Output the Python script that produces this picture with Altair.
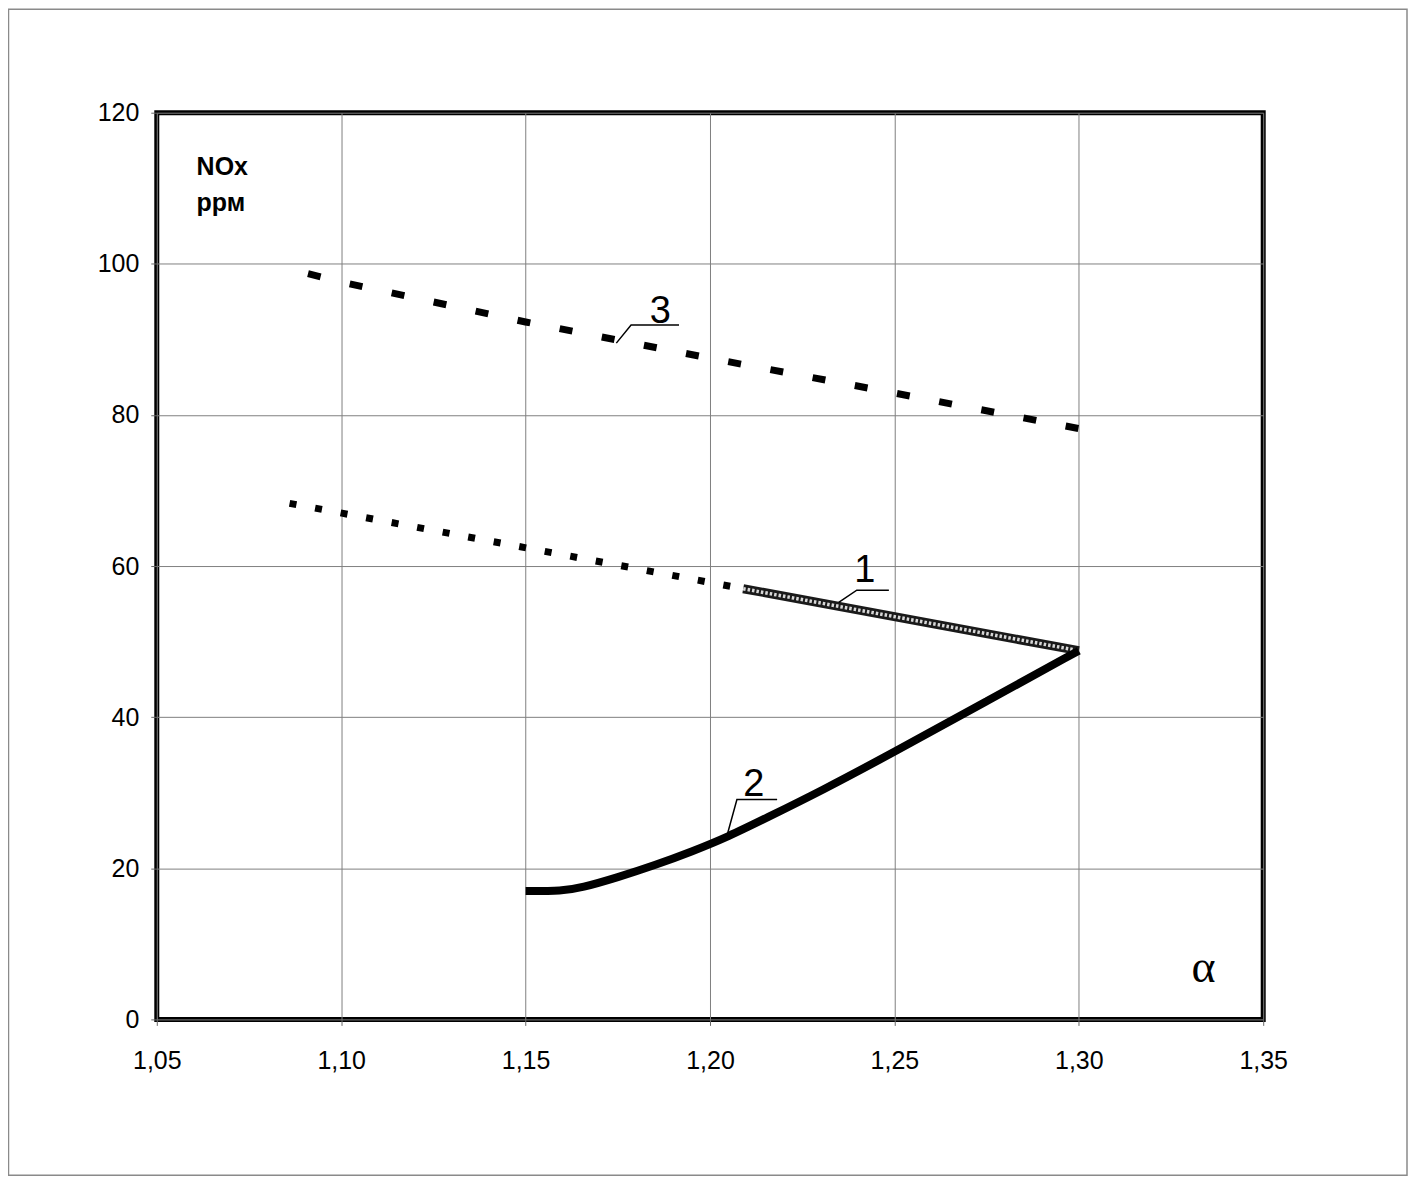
import pandas as pd
import altair as alt

# curve 1: dotted part then hatched solid part
alpha_1 = [1.086, 1.209, 1.300]
nox_1 = [68.3, 57.0, 48.8]

# curve 2: solid thick line
alpha_2 = [1.150, 1.160, 1.165, 1.175, 1.185, 1.195, 1.205, 1.215, 1.230, 1.250, 1.275, 1.300]
nox_2 = [17.0, 17.0, 17.4, 18.8, 20.4, 22.2, 24.2, 26.6, 30.2, 35.4, 42.1, 48.8]

# curve 3: dashed line
alpha_3 = [1.091, 1.100, 1.150, 1.200, 1.250, 1.300]
nox_3 = [98.7, 97.6, 92.3, 87.5, 82.9, 78.2]

x_ticks = [1.05, 1.10, 1.15, 1.20, 1.25, 1.30, 1.35]
y_ticks = [0, 20, 40, 60, 80, 100, 120]

# curve number labels and their leader lines
label_text = ["1", "2", "3"]
label_x = [1.242, 1.2119, 1.1865]
label_y = [57.9, 29.6, 92.2]
leader_id = [1, 1, 1, 2, 2, 2, 3, 3, 3]
leader_x = [1.2349, 1.2398, 1.2485, 1.2046, 1.2073, 1.2182, 1.1746, 1.1786, 1.1916]
leader_y = [55.2, 56.8, 56.8, 24.3, 29.1, 29.1, 89.5, 91.9, 91.9]

x_scale = alt.Scale(domain=[1.05, 1.35], nice=False, zero=False)
y_scale = alt.Scale(domain=[0, 120], nice=False)

x_axis = alt.Axis(values=x_ticks, title=None, grid=True, labelFlush=False, labelOverlap=False,
                  labelExpr="replace(format(datum.value, '.2f'), '.', ',')")
y_axis = alt.Axis(values=y_ticks, title=None, grid=True, labelFlush=False, labelOverlap=False)

X = alt.X("a:Q", scale=x_scale, axis=x_axis)
Y = alt.Y("n:Q", scale=y_scale, axis=y_axis)

df1_dot = pd.DataFrame({"a": alpha_1[:2], "n": nox_1[:2]})
df1_solid = pd.DataFrame({"a": alpha_1[1:], "n": nox_1[1:]})
df2 = pd.DataFrame({"a": alpha_2, "n": nox_2})
df3 = pd.DataFrame({"a": alpha_3, "n": nox_3})
labels = pd.DataFrame({"a": label_x, "n": label_y, "t": label_text})
leaders = pd.DataFrame({"id": leader_id, "a": leader_x, "n": leader_y})

line1_dots = alt.Chart(df1_dot).mark_line(
    color="black", strokeWidth=7, strokeDash=[7, 19], strokeCap="butt"
).encode(x=X, y=Y)

# hatched look: dark thick stroke with a light dashed core
line1_dark = alt.Chart(df1_solid).mark_line(
    color="#1a1a1a", strokeWidth=9, strokeCap="butt"
).encode(x=X, y=Y)
line1_light = alt.Chart(df1_solid).mark_line(
    color="#d8d8d8", strokeWidth=3.5, strokeDash=[2.5, 2], strokeCap="butt"
).encode(x=X, y=Y)

line2 = alt.Chart(df2).mark_line(
    color="black", strokeWidth=8, strokeCap="butt", interpolate="basis"
).encode(x=X, y=Y)

line3 = alt.Chart(df3).mark_line(
    color="black", strokeWidth=7, strokeDash=[13, 30], strokeCap="butt"
).encode(x=X, y=Y)

leader_lines = alt.Chart(leaders).mark_line(color="black", strokeWidth=1.5).encode(
    x=X, y=Y, detail="id:N", order="a:Q"
)

label_marks = alt.Chart(labels).mark_text(
    font="Liberation Sans", fontSize=38, align="center", baseline="alphabetic", color="black"
).encode(x=X, y=Y, text="t:N")

units = pd.DataFrame({"a": [1.0608, 1.0608], "n": [111.7, 107.0], "t": ["NOx", "ррм"]})
unit_text = alt.Chart(units).mark_text(
    font="Liberation Sans", fontSize=25, fontWeight="bold", align="left",
    baseline="alphabetic", color="black"
).encode(x=X, y=Y, text="t:N")

alpha_lbl = pd.DataFrame({"a": [1.3338], "n": [5.0], "t": ["α"]})
alpha_text = alt.Chart(alpha_lbl).mark_text(
    font="Liberation Serif", fontSize=46, align="center", baseline="alphabetic", color="black"
).encode(x=X, y=Y, text="t:N")

# thin gray frame around the whole picture
frame = alt.Chart(pd.DataFrame({"k": [0]})).mark_rect(
    fill=None, stroke="#8a8a8a", strokeWidth=1.5
).encode(
    x=alt.value(-148.5), x2=alt.value(1252), y=alt.value(-103.5), y2=alt.value(1064)
)

chart = alt.layer(
    frame, line1_dots, line1_dark, line1_light, line2, line3,
    leader_lines, label_marks, unit_text, alpha_text
).properties(
    width=1108, height=908,
    autosize=alt.AutoSizeParams(type="none"),
    padding={"left": 149, "top": 104, "right": 147, "bottom": 166},
    background="white"
).configure_view(
    stroke="black", strokeWidth=5
).configure_axis(
    gridColor="#808080", gridWidth=1, gridOpacity=1,
    domain=False, tickColor="#666666", tickSize=6, tickWidth=1,
    labelFont="Liberation Sans", labelFontSize=25, labelColor="black"
).configure_axisY(
    labelPadding=12
).configure_axisX(
    labelPadding=23
)

chart.save("out.html", embed_options={"renderer": "svg", "actions": False})
